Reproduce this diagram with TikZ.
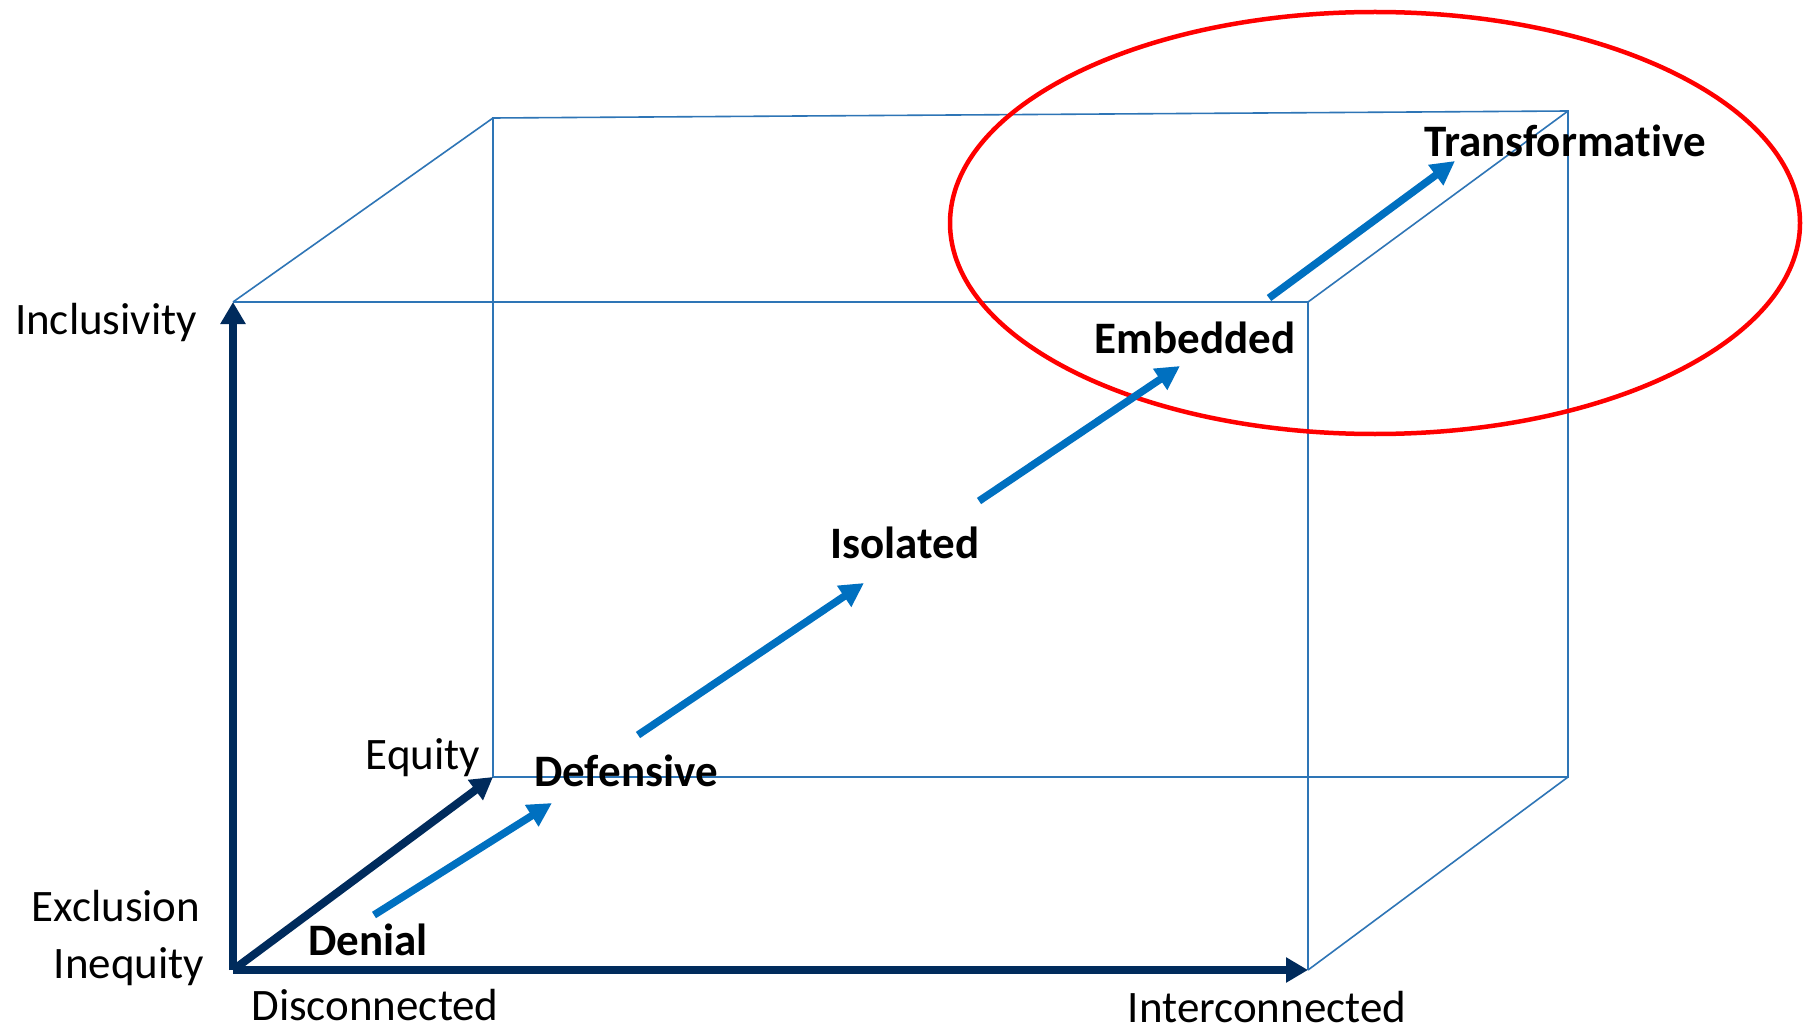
\documentclass[tikz,border=0pt]{standalone}
\usepackage{fontspec}
\setmainfont[Ligatures={NoCommon}]{Carlito}
\usetikzlibrary{arrows.meta}
\definecolor{cubeblue}{HTML}{2E75B6}
\definecolor{axisnavy}{HTML}{002B5C}
\definecolor{stageblue}{HTML}{0070C0}
\begin{document}
\begin{tikzpicture}[x=1pt,y=-1pt,
  cubeline/.style={draw=cubeblue,line width=1.6pt},
  axisarrow/.style={draw=axisnavy,line width=8pt,-{Triangle[length=22pt,width=24pt]}},
  stagearrow/.style={draw=stageblue,line width=7.5pt,-{Triangle[length=24pt,width=24pt]}},
  axislabel/.style={inner sep=0pt,font=\fontsize{45}{54}\selectfont},
  stagelabel/.style={inner sep=0pt,font=\fontsize{45}{54}\selectfont\bfseries}]
\useasboundingbox[fill=white] (0,0) rectangle (1809,1032);
% cube vertices
\coordinate (ftl) at (233,302);
\coordinate (ftr) at (1308,302);
\coordinate (fbr) at (1308,970);
\coordinate (fbl) at (233,970);
\coordinate (btl) at (493,118);
\coordinate (btr) at (1568,111);
\coordinate (bbr) at (1568,777);
\coordinate (bbl) at (493,777);
% cube edges
\draw[cubeline] (ftl) -- (ftr) -- (fbr);
\draw[cubeline] (btl) -- (btr) -- (bbr) -- (bbl) -- cycle;
\draw[cubeline] (ftl) -- (btl);
\draw[cubeline] (ftr) -- (btr);
\draw[cubeline] (fbr) -- (bbr);
% red ellipse
\draw[red,line width=4.5pt] (1375,223) ellipse [x radius=425,y radius=211];
% axes
\draw[axisarrow] (fbl) -- (ftl);
\draw[axisarrow] (fbl) -- (fbr);
\draw[axisarrow] (fbl) -- (bbl);
% stage arrows
\coordinate (a1s) at (374,915); \coordinate (a1e) at (552,803);
\coordinate (a2s) at (638,735); \coordinate (a2e) at (864,583);
\coordinate (a3s) at (979,501); \coordinate (a3e) at (1180,366);
\coordinate (a4s) at (1269,298); \coordinate (a4e) at (1455,161);
\draw[stagearrow] (a1s) -- (a1e);
\draw[stagearrow] (a2s) -- (a2e);
\draw[stagearrow] (a3s) -- (a3e);
\draw[stagearrow] (a4s) -- (a4e);
% labels
\node[axislabel] (incl) at (106,323) {Inclusivity};
\node[axislabel] (excl) at (116,906) {Exclusion};
\node[axislabel] (ineq) at (129,967) {Inequity};
\node[axislabel] (disc) at (375,1005) {Disconnected};
\node[axislabel] (inter) at (1267,1007) {Interconnected};
\node[axislabel] (equity) at (423,758) {Equity};
\node[stagelabel] (denial) at (368,940) {Denial};
\node[stagelabel] (defensive) at (626,771) {Defensive};
\node[stagelabel] (isolated) at (905,543) {Isolated};
\node[stagelabel] (embedded) at (1195,338) {Embedded};
\node[stagelabel] (transf) at (1565,141) {Transformative};
\end{tikzpicture}
\end{document}
